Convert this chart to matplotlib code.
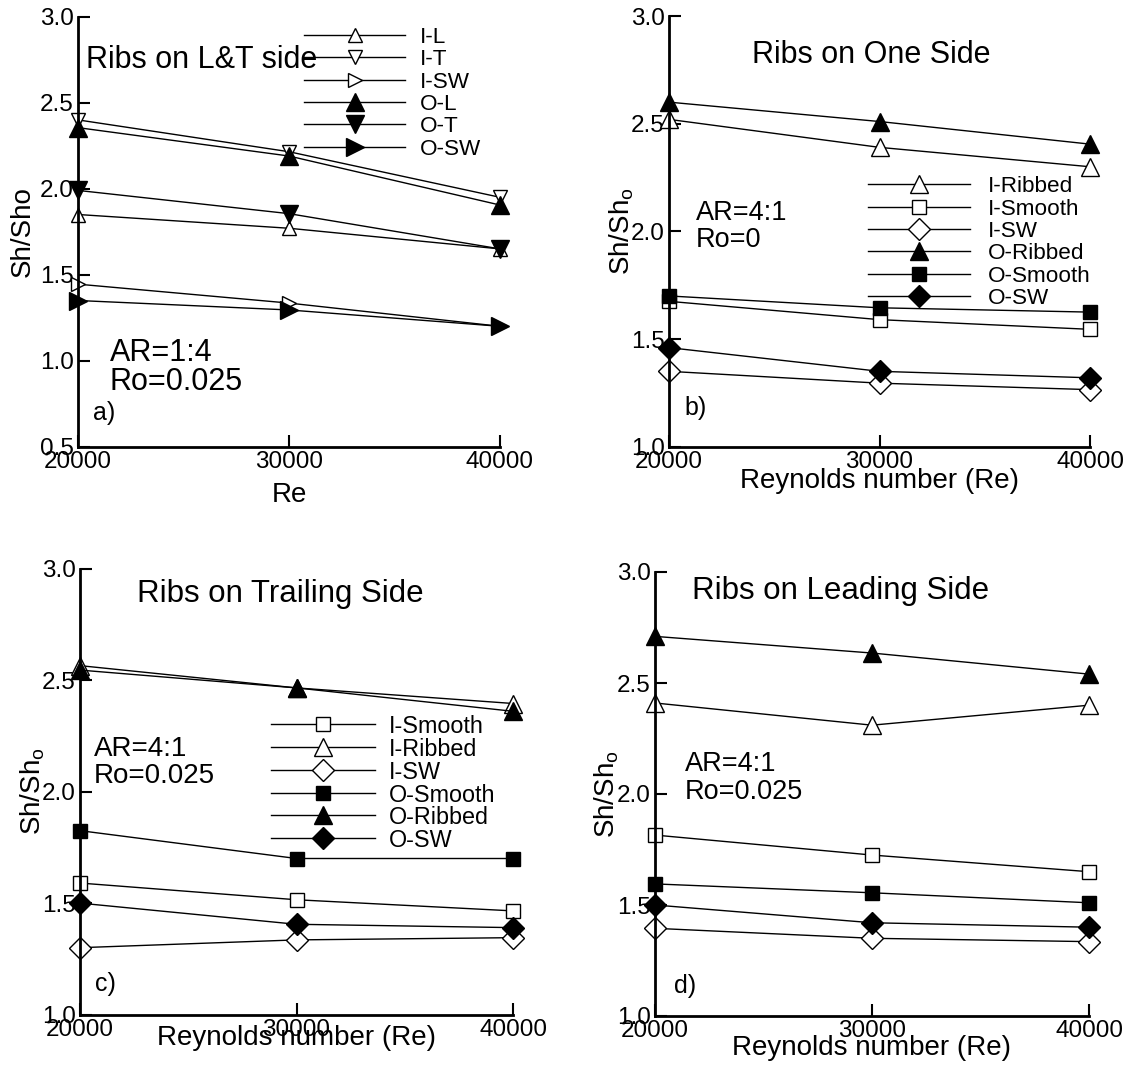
import matplotlib
matplotlib.use('Agg')
import matplotlib.pyplot as plt

plt.rcParams['font.family'] = ['Liberation Sans', 'DejaVu Sans']
plt.rcParams['mathtext.fontset'] = 'custom'
plt.rcParams['mathtext.rm'] = 'Liberation Sans'
plt.rcParams['mathtext.it'] = 'Liberation Sans'

re_vals = [20000, 30000, 40000]

# a) ribs on leading and trailing sides, AR=1:4
a_labels = ['I-L', 'I-T', 'I-SW', 'O-L', 'O-T', 'O-SW']
a_i_l = [1.85, 1.77, 1.65]
a_i_t = [2.40, 2.215, 1.95]
a_i_sw = [1.445, 1.335, 1.20]
a_o_l = [2.355, 2.19, 1.905]
a_o_t = [1.99, 1.855, 1.65]
a_o_sw = [1.35, 1.295, 1.20]

# b) ribs on one side, Ro=0
b_labels = ['I-Ribbed', 'I-Smooth', 'I-SW', 'O-Ribbed', 'O-Smooth', 'O-SW']
b_i_rib = [2.52, 2.39, 2.30]
b_i_smooth = [1.675, 1.59, 1.545]
b_i_sw = [1.35, 1.295, 1.265]
b_o_rib = [2.60, 2.51, 2.405]
b_o_smooth = [1.70, 1.645, 1.625]
b_o_sw = [1.46, 1.35, 1.32]

# c) ribs on trailing side, Ro=0.025
c_labels = ['I-Smooth', 'I-Ribbed', 'I-SW', 'O-Smooth', 'O-Ribbed', 'O-SW']
c_i_smooth = [1.59, 1.515, 1.465]
c_i_rib = [2.565, 2.465, 2.395]
c_i_sw = [1.30, 1.335, 1.345]
c_o_smooth = [1.825, 1.70, 1.70]
c_o_rib = [2.545, 2.465, 2.36]
c_o_sw = [1.50, 1.405, 1.39]

# d) ribs on leading side, Ro=0.025
d_i_rib = [2.41, 2.31, 2.40]
d_i_smooth = [1.815, 1.725, 1.65]
d_i_sw = [1.395, 1.35, 1.335]
d_o_rib = [2.71, 2.635, 2.54]
d_o_smooth = [1.595, 1.555, 1.51]
d_o_sw = [1.50, 1.42, 1.40]

W, H = 1131, 1065
fig = plt.figure(figsize=(W / 100, H / 100), dpi=100)


def make_axes(left, right, top, bottom, ymin):
    ax = fig.add_axes([left / W, 1 - bottom / H, (right - left) / W, (bottom - top) / H])
    ax.set_xlim(20000, 40000)
    ax.set_ylim(ymin, 3.0)
    ax.set_xticks(re_vals)
    ticks = [v / 2 for v in range(int(ymin * 2), 7)]
    ax.set_yticks(ticks)
    ax.set_yticklabels([f'{t:.1f}' for t in ticks])
    for s in ['top', 'right']:
        ax.spines[s].set_visible(False)
    for s in ['left', 'bottom']:
        ax.spines[s].set_linewidth(2)
    ax.tick_params(direction='in', length=8.5, width=1.5, labelsize=17.5, pad=3)
    return ax


def style(marker, filled, ms):
    return dict(color='black', lw=1, marker=marker, ms=ms,
                mfc='black' if filled else 'white', mec='black', mew=1, clip_on=False)


def series(ax, y, marker, filled, ms, label):
    ax.plot(re_vals, y, label=label, **style(marker, filled, ms))


def key(ax, x0, x1, xt, y0, dy, size):
    # line-through-marker legend, one row per plotted series
    for i, ln in enumerate(ax.get_lines()):
        y = y0 - i * dy
        kw = style(ln.get_marker(), ln.get_markerfacecolor() == 'black', ln.get_markersize())
        kw['marker'] = None
        ax.plot([x0, x1], [y, y], transform=ax.transAxes, **kw)
        kw = style(ln.get_marker(), ln.get_markerfacecolor() == 'black', ln.get_markersize())
        kw['lw'] = 0
        ax.plot([(x0 + x1) / 2], [y], transform=ax.transAxes, **kw)
        ax.text(xt, y, ln.get_label(), transform=ax.transAxes, fontsize=size,
                va='center_baseline')


def note(ax, x, y, s, size):
    ax.text(x, y, s, transform=ax.transAxes, fontsize=size, va='center')


sh_label = r'Sh/Sh$_\mathrm{o}$'

# panel a
ax = make_axes(78, 500, 16.7, 446.7, 0.5)
series(ax, a_i_l, '^', False, 10, a_labels[0])
series(ax, a_i_t, 'v', False, 10, a_labels[1])
series(ax, a_i_sw, '>', False, 10, a_labels[2])
series(ax, a_o_l, '^', True, 13, a_labels[3])
series(ax, a_o_t, 'v', True, 13, a_labels[4])
series(ax, a_o_sw, '>', True, 13, a_labels[5])
key(ax, 0.5355, 0.775, 0.810, 0.9574, 0.0519, 16.2)
note(ax, 0.019, 0.899, 'Ribs on L&T side', 22)
note(ax, 0.075, 0.219, 'AR=1:4', 22)
note(ax, 0.075, 0.151, 'Ro=0.025', 22)
note(ax, 0.036, 0.079, 'a)', 18)
ax.set_xlabel('Re', fontsize=20)
ax.set_ylabel('Sh/Sho', fontsize=20)
ax.xaxis.set_label_coords(0.5, -0.082)
ax.yaxis.set_label_coords(-0.1, 0.5)

# panel b
ax = make_axes(669, 1090, 16, 446.7, 1.0)
series(ax, b_i_rib, '^', False, 13, b_labels[0])
series(ax, b_i_smooth, 's', False, 10.5, b_labels[1])
series(ax, b_i_sw, 'D', False, 11, b_labels[2])
series(ax, b_o_rib, '^', True, 13, b_labels[3])
series(ax, b_o_smooth, 's', True, 10.5, b_labels[4])
series(ax, b_o_sw, 'D', True, 11, b_labels[5])
key(ax, 0.4727, 0.715, 0.758, 0.609, 0.0519, 16.2)
note(ax, 0.197, 0.91, 'Ribs on One Side', 22)
note(ax, 0.063, 0.543, 'AR=4:1', 19.5)
note(ax, 0.063, 0.48, 'Ro=0', 19.5)
note(ax, 0.037, 0.09, 'b)', 18)
ax.set_xlabel('Reynolds number (Re)', fontsize=20)
ax.set_ylabel(sh_label, fontsize=20)
ax.xaxis.set_label_coords(0.5, -0.049)
ax.yaxis.set_label_coords(-0.078, 0.5)

# panel c
ax = make_axes(79.7, 513.3, 568.6, 1014.6, 1.0)
series(ax, c_i_smooth, 's', False, 10.5, c_labels[0])
series(ax, c_i_rib, '^', False, 13, c_labels[1])
series(ax, c_i_sw, 'D', False, 11, c_labels[2])
series(ax, c_o_smooth, 's', True, 10.5, c_labels[3])
series(ax, c_o_rib, '^', True, 13, c_labels[4])
series(ax, c_o_sw, 'D', True, 11, c_labels[5])
key(ax, 0.441, 0.681, 0.714, 0.651, 0.0511, 16.8)
note(ax, 0.131, 0.943, 'Ribs on Trailing Side', 22.5)
note(ax, 0.033, 0.596, 'AR=4:1', 20)
note(ax, 0.033, 0.536, 'Ro=0.025', 20)
note(ax, 0.036, 0.068, 'c)', 18)
ax.set_xlabel('Reynolds number (Re)', fontsize=20)
ax.set_ylabel(sh_label, fontsize=20)
ax.xaxis.set_label_coords(0.5, -0.023)
ax.yaxis.set_label_coords(-0.076, 0.502)

# panel d
ax = make_axes(655, 1089, 572, 1016, 1.0)
series(ax, d_i_rib, '^', False, 13, 'I-Ribbed')
series(ax, d_i_smooth, 's', False, 10.5, 'I-Smooth')
series(ax, d_i_sw, 'D', False, 11, 'I-SW')
series(ax, d_o_rib, '^', True, 13, 'O-Ribbed')
series(ax, d_o_smooth, 's', True, 10.5, 'O-Smooth')
series(ax, d_o_sw, 'D', True, 11, 'O-SW')
note(ax, 0.085, 0.958, 'Ribs on Leading Side', 22.5)
note(ax, 0.068, 0.568, 'AR=4:1', 19.5)
note(ax, 0.068, 0.504, 'Ro=0.025', 19.5)
note(ax, 0.044, 0.068, 'd)', 18)
ax.set_xlabel('Reynolds number (Re)', fontsize=20)
ax.set_ylabel(sh_label, fontsize=20)
ax.xaxis.set_label_coords(0.5, -0.042)
ax.yaxis.set_label_coords(-0.078, 0.5)

fig.savefig('out.png', dpi=100)
